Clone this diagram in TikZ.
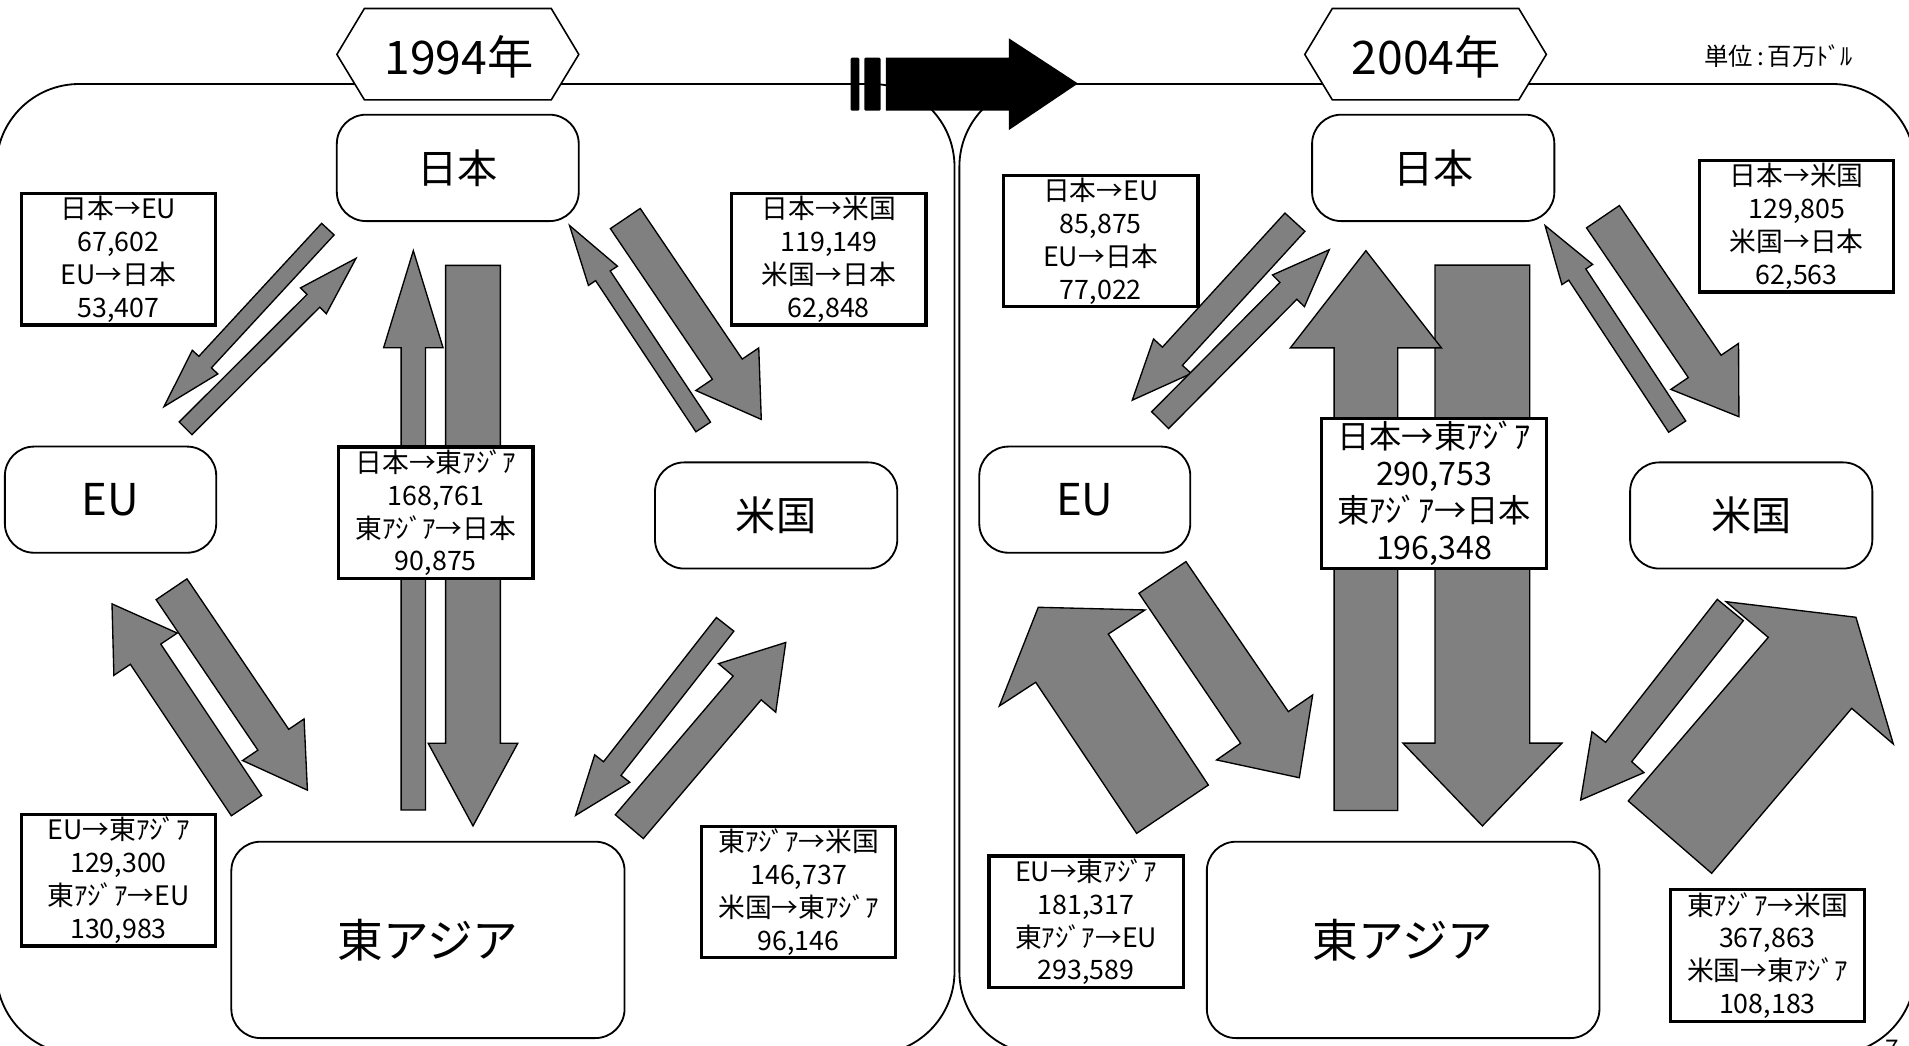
\documentclass[tikz,border=0pt]{standalone}
\usepackage{fontspec}
\setmainfont{Noto Sans CJK JP}
\usetikzlibrary{calc}
\definecolor{flowgray}{HTML}{808080}
\tikzset{
  flow/.style={fill=flowgray, draw=black, line width=1.1pt, line join=miter},
  region/.style={draw, line width=1.5pt, rounded corners=24pt, fill=white, inner sep=0pt, font=\fontsize{33}{33}\selectfont},
  lbl/.style={draw, line width=2.6pt, fill=white, align=center, inner sep=0pt, font=\fontsize{22}{27}\selectfont, minimum width=159.5pt, minimum height=108pt},
  biglbl/.style={lbl, font=\fontsize{26.5}{30.5}\selectfont, minimum width=184.8pt, minimum height=123.2pt},
  panel/.style={draw, line width=1.5pt, rounded corners=68pt},
  hexa/.style={draw, line width=1.3pt, fill=white},
  yeartext/.style={font=\fontsize{38}{38}\selectfont, inner sep=0pt},
}
\newcommand{\blockarrow}[5]{%
  \filldraw[flow]
    ($(#1)!#3!90:(#2)$) --
    ($(#2)!#5!(#1)!#3!90:(#2)$) --
    ($(#2)!#5!(#1)!#4!90:(#2)$) --
    (#2) --
    ($(#2)!#5!(#1)!#4!-90:(#2)$) --
    ($(#2)!#5!(#1)!#3!-90:(#2)$) --
    ($(#1)!#3!-90:(#2)$) -- cycle;
}
\begin{document}
\begin{tikzpicture}[x=1pt,y=-1pt]
\useasboundingbox (0,0) rectangle (1568,859);
% panels
\draw[panel] (-3,69) rectangle (784,866);
\draw[panel] (788,69) rectangle (1573,866);

% ---------------- 1994 ----------------
\node[region, minimum width=198.7pt, minimum height=87.4pt] (jp1) at (376,137.9) {日本};
\node[region, minimum width=173.6pt, minimum height=87.2pt, font=\fontsize{36}{36}\selectfont] (eu1) at (90.8,410.4) {EU};
\node[region, minimum width=199pt, minimum height=87.2pt] (us1) at (637.5,423.4) {米国};
\node[region, minimum width=323pt, minimum height=161.3pt, font=\fontsize{37.5}{37.5}\selectfont] (ea1) at (351.5,772) {東アジア};

\coordinate (a1t) at (269.3,188.2); \coordinate (a1h) at (134.7,334);
\coordinate (a2t) at (152.4,351.8); \coordinate (a2h) at (292.4,212.2);
\coordinate (a3t) at (513.6,179.5); \coordinate (a3h) at (625.3,344.5);
\coordinate (a4t) at (577.6,350.7); \coordinate (a4h) at (467.8,185.2);
\coordinate (a5t) at (388.5,218); \coordinate (a5h) at (388.5,678.4);
\coordinate (a6t) at (339.5,665.3); \coordinate (a6h) at (339.5,205.9);
\coordinate (a7t) at (140.9,484); \coordinate (a7h) at (252.5,649);
\coordinate (a8t) at (202.5,661.7); \coordinate (a8h) at (92,496);
\coordinate (a9t) at (595.6,512.8); \coordinate (a9h) at (472.8,669.7);
\coordinate (a10t) at (516.9,679); \coordinate (a10h) at (645.4,527.7);

\blockarrow{a1t}{a1h}{7pt}{14.3pt}{49.8pt}
\blockarrow{a2t}{a2h}{7.4pt}{15pt}{49.4pt}
\blockarrow{a3t}{a3h}{14.8pt}{31.2pt}{49.8pt}
\blockarrow{a4t}{a4h}{7.2pt}{14.3pt}{49.6pt}
\blockarrow{a5t}{a5h}{22.5pt}{36.8pt}{67.9pt}
\blockarrow{a6t}{a6h}{10pt}{24.4pt}{79.7pt}
\blockarrow{a7t}{a7h}{15.3pt}{30.5pt}{50pt}
\blockarrow{a8t}{a8h}{15pt}{31.3pt}{49.7pt}
\blockarrow{a9t}{a9h}{9.1pt}{18.3pt}{48.8pt}
\blockarrow{a10t}{a10h}{15.1pt}{30.8pt}{49pt}

\node[lbl] (l1) at (97.3,213) {日本→EU\\67,602\\EU→日本\\53,407};
\node[lbl] (l2) at (680.8,213) {日本→米国\\119,149\\米国→日本\\62,848};
\node[lbl] (l3) at (358,421.2) {日本→東ｱｼﾞｱ\\168,761\\東ｱｼﾞｱ→日本\\90,875};
\node[lbl] (l4) at (97.3,723) {EU→東ｱｼﾞｱ\\129,300\\東ｱｼﾞｱ→EU\\130,983};
\node[lbl] (l5) at (656,732.6) {東ｱｼﾞｱ→米国\\146,737\\米国→東ｱｼﾞｱ\\96,146};

% ---------------- 2004 ----------------
\node[region, minimum width=199pt, minimum height=87.4pt] (jp2) at (1177.2,137.9) {日本};
\node[region, minimum width=173.3pt, minimum height=87.2pt, font=\fontsize{36}{36}\selectfont] (eu2) at (891,410.4) {EU};
\node[region, minimum width=199pt, minimum height=87.2pt] (us2) at (1438.4,423.4) {米国};
\node[region, minimum width=322.5pt, minimum height=161.3pt, font=\fontsize{37.5}{37.5}\selectfont] (ea2) at (1152.5,772) {東アジア};

\coordinate (b1t) at (1063.6,182.5); \coordinate (b1h) at (930,328.7);
\coordinate (b2t) at (952.9,345.1); \coordinate (b2h) at (1091.8,205.1);
\coordinate (b3t) at (1316.6,178); \coordinate (b3h) at (1428.3,342.3);
\coordinate (b4t) at (1377.6,350.4); \coordinate (b4h) at (1269.1,185.3);
\coordinate (b5t) at (1217.6,217.8); \coordinate (b5h) at (1217.6,678.4);
\coordinate (b6t) at (1121.9,665.7); \coordinate (b6h) at (1121.9,205.9);

\blockarrow{b1t}{b1h}{11.1pt}{21pt}{48.9pt}
\blockarrow{b2t}{b2h}{9.8pt}{18.5pt}{47.6pt}
\blockarrow{b3t}{b3h}{16.3pt}{33.6pt}{50pt}
\blockarrow{b4t}{b4h}{8.4pt}{15.1pt}{48.1pt}
\blockarrow{b5t}{b5h}{38.9pt}{65.3pt}{68pt}
\blockarrow{b6t}{b6h}{26.1pt}{62pt}{79.8pt}

% skewed arrows
\filldraw[flow] (935.5,487.3) -- (974.1,461.3) -- (1058.2,584.5) -- (1078.2,570.8) -- (1067.2,638.8) -- (999.3,624.2) -- (1019,610.5) -- cycle;
\filldraw[flow] (933.6,684.5) -- (992.5,644.8) -- (910.3,520.8) -- (940.5,501) -- (852.8,498.8) -- (820.8,579.9) -- (850.7,560.4) -- cycle;
\filldraw[flow] (1410.5,492.3) -- (1431.9,509.8) -- (1340.2,625.6) -- (1350.3,634.6) -- (1298.3,657.1) -- (1307.6,601) -- (1318.8,609.7) -- cycle;
\filldraw[flow] (1337.4,657.9) -- (1405.9,717.3) -- (1520.9,581.8) -- (1555.1,611.1) -- (1524.4,507) -- (1417.7,494.2) -- (1452.4,523.5) -- cycle;

\node[lbl] (r1) at (904.2,198) {日本→EU\\85,875\\EU→日本\\77,022};
\node[lbl] (r2) at (1475.8,185.9) {日本→米国\\129,805\\米国→日本\\62,563};
\node[biglbl] (r3) at (1178,405.2) {日本→東ｱｼﾞｱ\\290,753\\東ｱｼﾞｱ→日本\\196,348};
\node[lbl] (r4) at (892.1,757.1) {EU→東ｱｼﾞｱ\\181,317\\東ｱｼﾞｱ→EU\\293,589};
\node[lbl] (r5) at (1451.7,784.8) {東ｱｼﾞｱ→米国\\367,863\\米国→東ｱｼﾞｱ\\108,183};

% year hexagons
\draw[hexa] (276.7,44.7) -- (299.3,7) -- (452.8,7) -- (475.4,44.7) -- (452.8,82) -- (299.3,82) -- cycle;
\node[yeartext] (y1) at (377,47) {1994年};
\draw[hexa] (1071.7,44.7) -- (1094.3,7) -- (1247.5,7) -- (1270.1,44.7) -- (1247.5,82) -- (1094.3,82) -- cycle;
\node[yeartext] (y2) at (1171.5,47) {2004年};

% transition arrow
\fill[rounded corners=1pt] (698.7,47.4) rectangle (705.8,90.9);
\fill[rounded corners=1pt] (709.9,47.4) rectangle (723.3,90.9);
\fill (727.7,47.4) -- (828.7,47.4) -- (828.7,31.5) -- (885.4,68.6) -- (828.7,106.8) -- (828.7,90.9) -- (727.7,90.9) -- cycle;

% unit and page number
\node[font=\fontsize{20}{20}\selectfont, inner sep=0pt] (unit) at (1461,46) {単位\,:\,百万ﾄﾞﾙ};
\node[font=\fontsize{20}{20}\selectfont, inner sep=0pt, anchor=base] (pg) at (1554,869) {7};
\end{tikzpicture}
\end{document}
